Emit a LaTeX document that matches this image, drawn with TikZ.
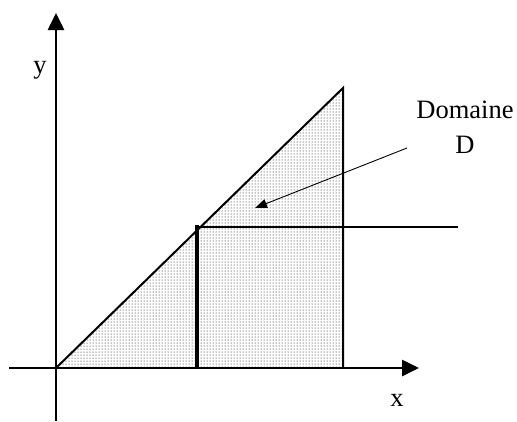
\documentclass[tikz,border=0pt]{standalone}
\usepackage{fontspec}
\setmainfont{Liberation Serif}
\usetikzlibrary{arrows.meta,patterns}
\begin{document}
\begin{tikzpicture}[x=1pt,y=-1pt,
  axis/.style={line width=2.6pt,-{Triangle[length=17pt,width=16pt]}},
  edge/.style={line width=2pt},
  thickedge/.style={line width=3.8pt},
  lbl/.style={font=\fontsize{26.5}{35}\selectfont,inner sep=0pt},
  pointer/.style={line width=0.9pt,-{Triangle[length=12pt,width=9pt]}}]
\useasboundingbox (0,0) rectangle (517,421);
% points
\coordinate (O) at (56,368);
\coordinate (Xs) at (9,368);
\coordinate (Xe) at (419,368);
\coordinate (Ys) at (56,421);
\coordinate (Ye) at (56,13);
\coordinate (T) at (343,88);
\coordinate (B) at (343,368);
\coordinate (V0) at (197,368);
\coordinate (V1) at (197,225);
\coordinate (H0) at (197,227);
\coordinate (H1) at (458,227);
\coordinate (P0) at (407,148);
\coordinate (P1) at (255,208);
% domain
\fill[pattern=dots,pattern color=black] (O) -- (T) -- (B) -- cycle;
\draw[edge] (O) -- (T) -- (B);
\draw[thickedge] (V0) -- (V1);
\draw[edge] (H0) -- (H1);
% axes
\draw[axis] (Xs) -- (Xe);
\draw[axis] (Ys) -- (Ye);
% labels
\node[lbl,anchor=base] (ylab) at (40,73) {y};
\node[lbl,anchor=base] (xlab) at (397,406) {x};
\node[lbl,anchor=base,align=center] (dom) at (465,153) {Domaine\\D};
\draw[pointer] (P0) -- (P1);
\end{tikzpicture}
\end{document}
